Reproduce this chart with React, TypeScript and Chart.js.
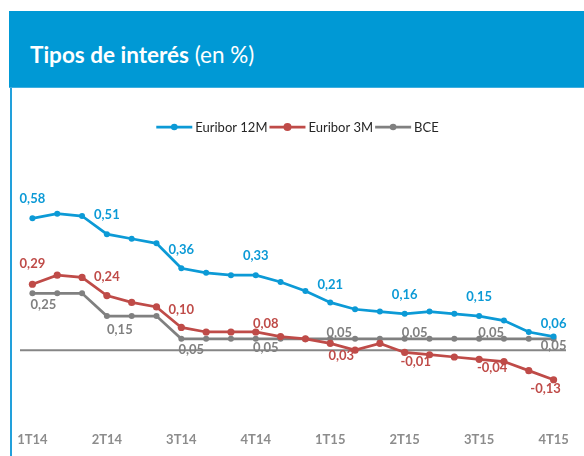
import React, { useEffect, useRef } from "react";
import { Chart, registerables } from "chart.js";

Chart.register(...registerables);

// ---- Data ----
const months = [
  "ene-14", "feb-14", "mar-14", "abr-14", "may-14", "jun-14", "jul-14", "ago-14",
  "sep-14", "oct-14", "nov-14", "dic-14", "ene-15", "feb-15", "mar-15", "abr-15",
  "may-15", "jun-15", "jul-15", "ago-15", "sep-15", "oct-15",
];
const quarterLabels = ["1T14", "2T14", "3T14", "4T14", "1T15", "2T15", "3T15", "4T15"];

const euribor12M = [0.58, 0.60, 0.59, 0.51, 0.49, 0.47, 0.36, 0.34, 0.33, 0.33, 0.30, 0.26, 0.21, 0.18, 0.17, 0.16, 0.17, 0.16, 0.15, 0.13, 0.08, 0.06];
const euribor3M = [0.29, 0.33, 0.32, 0.24, 0.21, 0.19, 0.10, 0.08, 0.08, 0.08, 0.06, 0.05, 0.03, 0.00, 0.03, -0.01, -0.02, -0.03, -0.04, -0.05, -0.09, -0.13];
const bce = [0.25, 0.25, 0.25, 0.15, 0.15, 0.15, 0.05, 0.05, 0.05, 0.05, 0.05, 0.05, 0.05, 0.05, 0.05, 0.05, 0.05, 0.05, 0.05, 0.05, 0.05, 0.05];

const seriesNames = ["Euribor 12M", "Euribor 3M", "BCE"];
const seriesColors = ["#0C9AD6", "#BF4B48", "#808080"];

// ---- Label placement (style only): [index, dx, dy] ----
const labelPlacement: number[][][] = [
  [[0, 0, -19], [3, 0, -19], [6, 0, -19], [9, 0, -19], [12, 0, -18], [15, 0, -19], [18, 0, -19], [21, 0, -13]],
  [[0, 0, -20], [3, 0, -19], [6, 0, -18], [9, 10, -8], [12, 11, 12], [15, 11, 9.5], [18, 13, 8.5], [21, -8, 9]],
  [[0, 11, 11], [3, 13, 14], [6, 10, 11], [9, 10, 9.5], [12, 9, -6], [15, 10, -6], [18, 12, -6], [21, 0, 7.5]],
];

const FONT = "Lato, 'Open Sans', sans-serif";

const dataLabelPlugin = {
  id: "dataLabels",
  afterDatasetsDraw(chart: any) {
    const ctx = chart.ctx;
    ctx.save();
    ctx.font = `bold 13px ${FONT}`;
    ctx.textAlign = "center";
    ctx.textBaseline = "middle";
    chart.data.datasets.forEach((ds: any, d: number) => {
      const meta = chart.getDatasetMeta(d);
      ctx.fillStyle = seriesColors[d];
      labelPlacement[d].forEach(([i, dx, dy]) => {
        const pt = meta.data[i];
        if (!pt) return;
        const v = ds.data[i] as number;
        const txt = v.toFixed(2).replace(".", ",");
        ctx.fillText(txt, pt.x + dx, pt.y + dy);
      });
    });
    ctx.restore();
  },
};

const zeroLinePlugin = {
  id: "zeroLine",
  beforeDatasetsDraw(chart: any) {
    const { ctx, chartArea, scales } = chart;
    const y = scales.y.getPixelForValue(0);
    ctx.save();
    ctx.strokeStyle = "#868686";
    ctx.lineWidth = 2;
    ctx.beginPath();
    ctx.moveTo(chartArea.left, y);
    ctx.lineTo(chartArea.right, y);
    ctx.stroke();
    ctx.restore();
  },
};

const legendPlugin = {
  id: "customLegend",
  afterDraw(chart: any) {
    const ctx = chart.ctx;
    ctx.save();
    ctx.font = `13px ${FONT}`;
    const lineLen = 36;
    const gapAfterLine = 3;
    const gapAfterText = 2;
    const widths = seriesNames.map((n) => ctx.measureText(n).width);
    const total = widths.reduce((a, w) => a + lineLen + gapAfterLine + w + gapAfterText, 0) - gapAfterText;
    let x = 297.5 - total / 2;
    const y = 39;
    seriesNames.forEach((n, k) => {
      ctx.strokeStyle = seriesColors[k];
      ctx.fillStyle = seriesColors[k];
      ctx.lineWidth = 2.75;
      ctx.beginPath();
      ctx.moveTo(x, y);
      ctx.lineTo(x + lineLen, y);
      ctx.stroke();
      ctx.beginPath();
      ctx.arc(x + lineLen / 2, y, k === 1 ? 4 : 3.3, 0, Math.PI * 2);
      ctx.fill();
      ctx.fillStyle = "#262626";
      ctx.textAlign = "left";
      ctx.textBaseline = "middle";
      ctx.fillText(n, x + lineLen + gapAfterLine, y + 0.5);
      x += lineLen + gapAfterLine + widths[k] + gapAfterText;
    });
    ctx.restore();
  },
};

export default function App() {
  const canvasRef = useRef<HTMLCanvasElement | null>(null);

  useEffect(() => {
    if (!canvasRef.current) return;
    const chart = new Chart(canvasRef.current, {
      type: "line",
      data: {
        labels: months,
        datasets: [euribor12M, euribor3M, bce].map((vals, k) => ({
          label: seriesNames[k],
          data: vals,
          borderColor: seriesColors[k],
          backgroundColor: seriesColors[k],
          pointBackgroundColor: seriesColors[k],
          pointBorderColor: seriesColors[k],
          borderWidth: 2.75,
          pointRadius: k === 1 ? 3.6 : 3,
          pointBorderWidth: 0,
          tension: 0,
          fill: false,
        })),
      },
      options: {
        animation: false,
        responsive: false,
        devicePixelRatio: 1,
        layout: { padding: { left: 20, right: 18, top: 103, bottom: 6 } },
        plugins: {
          legend: { display: false },
          tooltip: { enabled: false },
          title: { display: false },
        },
        scales: {
          x: {
            type: "category",
            offset: true,
            grid: { display: false, drawTicks: false },
            border: { display: false },
            ticks: {
              autoSkip: false,
              maxRotation: 0,
              minRotation: 0,
              padding: 14,
              color: "#8C8C8C",
              font: { family: FONT, size: 13, weight: "bold" },
              callback: (_v: any, idx: number) => (idx % 3 === 0 ? quarterLabels[idx / 3] : ""),
            },
          },
          y: {
            display: false,
            min: -0.3,
            max: 0.7,
          },
        },
      },
      plugins: [zeroLinePlugin, dataLabelPlugin, legendPlugin],
    } as any);
    return () => chart.destroy();
  }, []);

  return (
    <div style={{ position: "fixed", left: 0, top: 0, width: 584, height: 456, background: "#fff", overflow: "hidden" }}>
      <div style={{ position: "absolute", left: 9, top: 11, width: 575, height: 77, background: "#0099D5", borderBottom: "1px solid #3FAFE0", boxSizing: "border-box" }} />
      <div
        style={{
          position: "absolute",
          left: 30,
          top: 43,
          color: "#fff",
          fontFamily: FONT,
          fontSize: 22.5,
          lineHeight: "23px",
          whiteSpace: "nowrap",
        }}
      >
        <span style={{ fontWeight: "bold" }}>Tipos de interés</span> (en %)
      </div>
      <canvas
        ref={canvasRef}
        width={584}
        height={380}
        style={{ position: "absolute", left: 0, top: 88, width: 584, height: 380 }}
      />
      <div style={{ position: "absolute", left: 10, top: 88, width: 2, height: 368, background: "#22A0DB" }} />
    </div>
  );
}
